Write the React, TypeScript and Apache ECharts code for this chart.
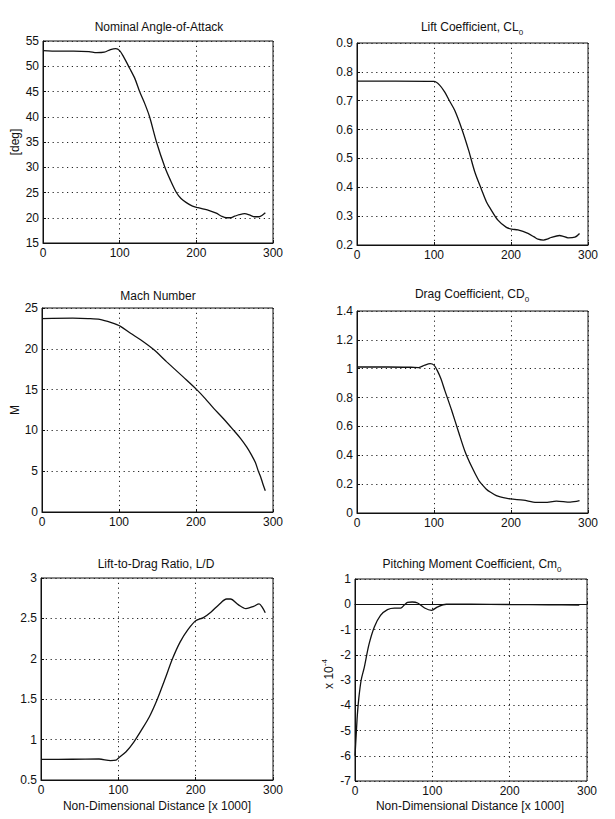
import React, { useEffect, useRef } from "react";
import * as echarts from "echarts";

// Trajectory quantities against non-dimensional distance [x 1000]
const angleOfAttack: number[][] = [
  [0, 53.1], [20, 53.0], [40, 53.0], [60, 52.9], [70, 52.7], [80, 52.8], [88, 53.3], [95, 53.5],
  [100, 53.1], [105, 51.9], [113, 49.6], [120, 47.5], [126, 45], [133, 42.5], [139, 40], [148, 35],
  [159, 30], [166, 27.5], [174, 25], [180, 23.8], [187, 23], [195, 22.3], [202, 22], [210, 21.7],
  [217, 21.4], [226, 20.9], [233, 20.3], [239, 20.0], [244, 20.0], [250, 20.3], [256, 20.6],
  [263, 20.8], [270, 20.5], [276, 20.2], [282, 20.2], [286, 20.5], [290, 21.0],
];

const liftCoefficient: number[][] = [
  [0, 0.768], [50, 0.768], [100, 0.767], [107, 0.755], [114, 0.73], [120, 0.7], [127, 0.666],
  [136, 0.603], [145, 0.528], [153, 0.453], [162, 0.39], [168, 0.35], [173, 0.327], [183, 0.286],
  [194, 0.261], [201, 0.255], [209, 0.252], [222, 0.24], [230, 0.228], [235, 0.22], [242, 0.217],
  [247, 0.22], [252, 0.226], [263, 0.233], [268, 0.23], [274, 0.225], [283, 0.227], [289, 0.24],
];

const machNumber: number[][] = [
  [0, 23.7], [40, 23.75], [60, 23.7], [75, 23.6], [90, 23.2], [102, 22.75], [115, 21.9],
  [128, 21.1], [145, 19.9], [162, 18.4], [184, 16.5], [201, 15.0], [212, 13.9], [223, 12.7],
  [236, 11.4], [249, 10.0], [258, 9.0], [266, 7.95], [272, 7.0], [277, 6.1], [281, 5.0],
  [284, 4.3], [287, 3.4], [290, 2.6],
];

const dragCoefficient: number[][] = [
  [0, 1.012], [40, 1.012], [70, 1.01], [80, 1.008], [88, 1.025], [95, 1.035], [100, 1.025],
  [104, 0.99], [109, 0.93], [114, 0.85], [123, 0.71], [132, 0.56], [140, 0.43],
  [149, 0.32], [158, 0.227], [162, 0.2], [168, 0.165], [173, 0.145], [181, 0.12], [186, 0.112],
  [199, 0.098], [216, 0.089], [233, 0.073], [244, 0.073], [259, 0.082], [277, 0.075], [289, 0.085],
];

const liftToDrag: number[][] = [
  [0, 0.755], [40, 0.757], [75, 0.76], [90, 0.74], [97, 0.745], [100, 0.77], [110, 0.85],
  [120, 0.97], [130, 1.12], [140, 1.28], [150, 1.49], [160, 1.74], [170, 2.0], [180, 2.21],
  [190, 2.36], [200, 2.47], [210, 2.51], [220, 2.58], [230, 2.67], [240, 2.74], [245, 2.74],
  [255, 2.67], [265, 2.62], [275, 2.65], [282, 2.68], [286, 2.64], [290, 2.57],
];

// Pitching moment in units of 1e-4
const pitchingMoment: number[][] = [
  [0, -6.0], [1.5, -5.2], [3, -4.4], [5, -3.7], [8, -3.0], [12, -2.5], [18, -1.6], [25, -0.9],
  [33, -0.44], [42, -0.21], [51, -0.15], [59, -0.15], [64, -0.02], [68, 0.07], [74, 0.09],
  [81, 0.05], [90, -0.15], [99, -0.24], [107, -0.1], [118, 0], [150, 0], [200, -0.01],
  [250, -0.02], [290, -0.03],
];

const xTicks = { min: 0, max: 300, interval: 100 };

const panels = [
  { title: "Nominal Angle-of-Attack", data: angleOfAttack, yMin: 15, yMax: 55, yStep: 5,
    grid: { left: 43, top: 41, width: 230, height: 202 }, titleAt: [159, 27] },
  { title: "Lift Coefficient, CL{sub|0}", data: liftCoefficient, yMin: 0.2, yMax: 0.9, yStep: 0.1,
    grid: { left: 357, top: 43, width: 231, height: 202 }, titleAt: [472, 27] },
  { title: "Mach Number", data: machNumber, yMin: 0, yMax: 25, yStep: 5,
    grid: { left: 42, top: 308, width: 231, height: 204 }, titleAt: [158, 296] },
  { title: "Drag Coefficient, CD{sub|0}", data: dragCoefficient, yMin: 0, yMax: 1.4, yStep: 0.2,
    grid: { left: 357, top: 311, width: 231, height: 202 }, titleAt: [472, 294] },
  { title: "Lift-to-Drag Ratio, L/D", data: liftToDrag, yMin: 0.5, yMax: 3, yStep: 0.5,
    grid: { left: 41, top: 578, width: 232, height: 202 }, titleAt: [156, 564] },
  { title: "Pitching Moment Coefficient, Cm{sub|0}", data: pitchingMoment, yMin: -7, yMax: 1, yStep: 1,
    grid: { left: 355, top: 579, width: 232, height: 202 }, titleAt: [472, 564] },
];

const FONT = "'Liberation Sans', Arial, Helvetica, sans-serif";
const INK = "#111";

export default function App() {
  const ref = useRef<HTMLDivElement>(null);

  useEffect(() => {
    if (!ref.current) return;
    const chart = echarts.init(ref.current, null, { renderer: "svg" });

    const richScript = {
      sub: { fontSize: 8, lineHeight: 8, verticalAlign: "bottom", fontFamily: FONT, fill: INK },
      sup: { fontSize: 8, lineHeight: 8, verticalAlign: "top", fontFamily: FONT, fill: INK },
    };

    const grids = panels.map((p) => ({
      ...p.grid,
      show: true,
      borderColor: INK,
      borderWidth: 1,
      backgroundColor: "transparent",
      containLabel: false,
    }));

    const axisLabel = { fontFamily: FONT, fontSize: 12, color: INK };
    const splitLine = { show: true, lineStyle: { color: "#222", type: [1.2, 3.6], width: 1 } };

    const xAxes = panels.map((_, i) => ({
      type: "value",
      gridIndex: i,
      ...xTicks,
      axisLine: { show: true, lineStyle: { color: INK, width: 1 } },
      axisTick: { show: true, inside: true, length: 3, lineStyle: { color: INK } },
      axisLabel: { ...axisLabel, margin: 4 },
      splitLine,
    }));

    const yAxes = panels.map((p, i) => ({
      type: "value",
      gridIndex: i,
      min: p.yMin,
      max: p.yMax,
      interval: p.yStep,
      axisLine: { show: true, lineStyle: { color: INK, width: 1 } },
      axisTick: { show: true, inside: true, length: 3, lineStyle: { color: INK } },
      axisLabel: {
        ...axisLabel,
        margin: 4,
        formatter: (v: number) => String(Math.round(v * 100) / 100),
      },
      splitLine,
    }));

    const series = panels.map((p, i) => ({
      type: "line",
      xAxisIndex: i,
      yAxisIndex: i,
      data: p.data,
      smooth: 0.3,
      showSymbol: false,
      silent: true,
      lineStyle: { color: INK, width: 1.3 },
    }));

    const titleTexts = panels.map((p) => ({
      type: "text",
      x: p.titleAt[0],
      y: p.titleAt[1],
      silent: true,
      style: {
        text: p.title,
        align: "center",
        verticalAlign: "middle",
        fontFamily: FONT,
        fontSize: 12,
        lineHeight: 18,
        fill: INK,
        rich: richScript,
      },
    }));

    const axisNames = [
      { text: "[deg]", x: 15, y: 142, rotation: Math.PI / 2 },
      { text: "M", x: 15, y: 410, rotation: Math.PI / 2 },
      { text: "x 10{sup|-4}", x: 329, y: 674, rotation: Math.PI / 2 },
      { text: "Non-Dimensional Distance [x 1000]", x: 157, y: 806, rotation: 0 },
      { text: "Non-Dimensional Distance [x 1000]", x: 470, y: 806, rotation: 0 },
    ].map((n) => ({
      type: "text",
      x: n.x,
      y: n.y,
      rotation: n.rotation,
      silent: true,
      style: {
        text: n.text,
        align: "center",
        verticalAlign: "middle",
        fontFamily: FONT,
        fontSize: 12,
        lineHeight: 18,
        fill: INK,
        rich: richScript,
      },
    }));

    chart.setOption({
      animation: false,
      backgroundColor: "#fff",
      grid: grids,
      xAxis: xAxes,
      yAxis: yAxes,
      series,
      graphic: [...titleTexts, ...axisNames],
    });

    return () => chart.dispose();
  }, []);

  return (
    <div
      ref={ref}
      style={{ position: "fixed", left: 0, top: 0, width: 615, height: 819, background: "#fff" }}
    />
  );
}
